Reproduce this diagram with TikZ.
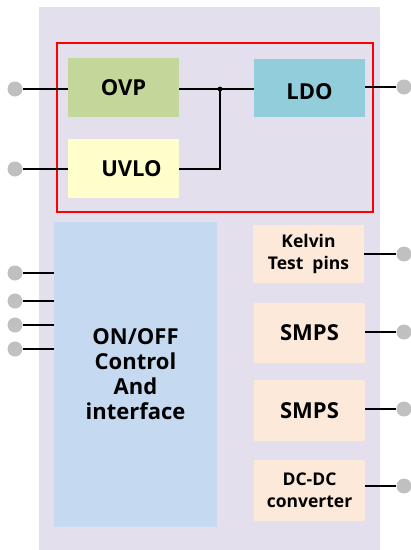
\documentclass[tikz,border=0pt]{standalone}
\usepackage{fontspec}
\setmainfont{Open Sans}
\begin{document}
\begin{tikzpicture}[x=1pt,y=-1pt,
  blk/.style={draw=none,inner sep=0pt,font=\bfseries\fontsize{22}{25}\selectfont,align=center},
  blks/.style={draw=none,inner sep=0pt,font=\bfseries\fontsize{17.5}{22}\selectfont,align=center},
  pin/.style={circle,fill=pingray,draw=none,minimum size=15pt,inner sep=0pt},
  wire/.style={draw=black,line width=1.8pt},
]
\definecolor{panel}{HTML}{E4DFEC}
\definecolor{ovpc}{HTML}{C4D79B}
\definecolor{uvloc}{HTML}{FFFFCC}
\definecolor{ldoc}{HTML}{92CDDC}
\definecolor{ctrlc}{HTML}{C5D9F1}
\definecolor{peach}{HTML}{FDE9D9}
\definecolor{pingray}{HTML}{C0C0C0}
\useasboundingbox (0,0) rectangle (411,550);
\fill[panel] (39,7) rectangle (380,550);
\draw[red,line width=2.6pt] (57,43) rectangle (373,212);
% blocks
\node[blk,fill=ovpc,minimum width=111pt,minimum height=59pt] (ovp) at (123.5,87.5) {OVP};
\node[blk,fill=uvloc,minimum width=111pt,minimum height=59pt] (uvlo) at (123.5,168.5) {\hspace*{16pt}UVLO};
\node[blk,fill=ldoc,minimum width=111pt,minimum height=58pt,text height=23.7pt,text depth=0pt] (ldo) at (309.5,88) {LDO};
\node[blk,fill=ctrlc,minimum width=163pt,minimum height=305pt] (ctrl) at (135.5,374.5) {ON/OFF\\Control\\And\\interface};
\node[blks,fill=peach,minimum width=111pt,minimum height=58pt] (kel) at (308.5,254) {Kelvin\\Test\ \ pins};
\node[blk,fill=peach,minimum width=111pt,minimum height=60pt] (smps1) at (309.5,333) {SMPS};
\node[blk,fill=peach,minimum width=111pt,minimum height=61pt] (smps2) at (309.5,410.5) {SMPS};
\node[blks,fill=peach,minimum width=111pt,minimum height=61pt] (dcdc) at (309.5,490.5) {DC-DC\\converter};
% pins
\node[pin] (p1) at (15,89) {};
\node[pin] (p2) at (15,169) {};
\node[pin] (p3) at (404,87) {};
\node[pin] (p4) at (15,273) {};
\node[pin] (p5) at (15,301) {};
\node[pin] (p6) at (15,325) {};
\node[pin] (p7) at (15,349) {};
\node[pin] (p8) at (404,254) {};
\node[pin] (p9) at (404,332) {};
\node[pin] (p10) at (404,409) {};
\node[pin] (p11) at (404,486) {};
\coordinate (j) at (220,89);
% wires
\draw[wire] (p1.east) -- (ovp.west |- p1);
\draw[wire] (p2.east) -- (uvlo.west |- p2);
\draw[wire] (ovp.east |- j) -- (j) -- (ldo.west |- j);
\draw[wire] (uvlo.east |- p2) -| (j);
\fill (j) circle (2.4pt);
\draw[wire] (ldo.east |- p3) -- (p3.west);
\draw[wire] (p4.east) -- (ctrl.west |- p4);
\draw[wire] (p5.east) -- (ctrl.west |- p5);
\draw[wire] (p6.east) -- (ctrl.west |- p6);
\draw[wire] (p7.east) -- (ctrl.west |- p7);
\draw[wire] (kel.east |- p8) -- (p8.west);
\draw[wire] (smps1.east |- p9) -- (p9.west);
\draw[wire] (smps2.east |- p10) -- (p10.west);
\draw[wire] (dcdc.east |- p11) -- (p11.west);
\end{tikzpicture}
\end{document}
